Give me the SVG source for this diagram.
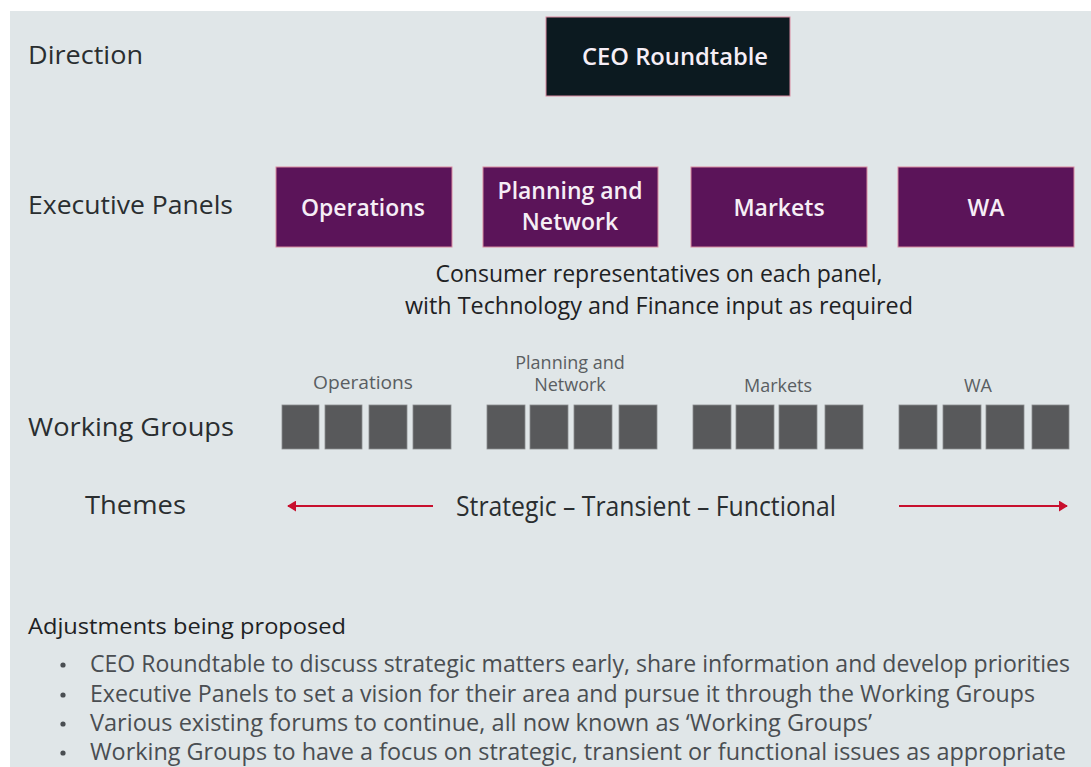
<svg xmlns="http://www.w3.org/2000/svg" width="1091" height="767" viewBox="0 0 1091 767">
<style>
text{font-family:"Open Sans","Noto Sans","DejaVu Sans",sans-serif}
.lbl{font-size:26px;fill:#2a2e30}
.box{stroke:#d98aa0;stroke-width:1}
.ceo{fill:#0c1a20}
.panel{fill:#5b1459}
.bt{font-size:23px;fill:#f6eef6;text-anchor:middle;font-weight:600}
.sq{fill:#58595b;stroke:#8a8c8e;stroke-width:0.8}
.wl{font-size:18px;fill:#5a5e62;text-anchor:middle}
.mid{font-size:23px;fill:#1e2224;text-anchor:middle;font-weight:500}
.bul{font-size:23px;fill:#4a4e52}
</style>
<defs>
<marker id="ah" viewBox="0 0 10 10" refX="9" refY="5" markerWidth="9" markerHeight="11" orient="auto-start-reverse" markerUnits="userSpaceOnUse" preserveAspectRatio="none">
<path d="M0,0 L10,5 L0,10 Z" fill="#c8102e"/>
</marker>
</defs>
<rect x="0" y="0" width="1091" height="767" fill="#ffffff"/>
<rect x="10" y="11" width="1081" height="756" fill="#e0e6e8"/>

<text class="lbl" x="28" y="64" textLength="115" lengthAdjust="spacingAndGlyphs">Direction</text>
<text class="lbl" x="28" y="214" textLength="205" lengthAdjust="spacingAndGlyphs">Executive Panels</text>
<text class="lbl" x="28" y="436" textLength="206" lengthAdjust="spacingAndGlyphs">Working Groups</text>
<text class="lbl" x="85" y="514" textLength="101" lengthAdjust="spacingAndGlyphs">Themes</text>

<g id="ceo">
<rect class="box ceo" x="546" y="17" width="244" height="79"/>
<text class="bt" x="675" y="65" textLength="186" lengthAdjust="spacingAndGlyphs">CEO Roundtable</text>
</g>
<g id="panel-operations">
<rect class="box panel" x="276" y="167" width="176" height="80"/>
<text class="bt" x="363" y="216" textLength="124" lengthAdjust="spacingAndGlyphs">Operations</text>
</g>
<g id="panel-planning">
<rect class="box panel" x="483" y="167" width="175" height="80"/>
<text class="bt" x="570" y="199" textLength="145" lengthAdjust="spacingAndGlyphs">Planning and</text>
<text class="bt" x="570" y="230">Network</text>
</g>
<g id="panel-markets">
<rect class="box panel" x="691" y="167" width="176" height="80"/>
<text class="bt" x="779" y="216">Markets</text>
</g>
<g id="panel-wa">
<rect class="box panel" x="898" y="167" width="176" height="80"/>
<text class="bt" x="986" y="216" font-weight="bold">WA</text>
</g>

<text class="mid" x="659" y="282" textLength="447" lengthAdjust="spacingAndGlyphs">Consumer representatives on each panel,</text>
<text class="mid" x="659" y="314" textLength="508" lengthAdjust="spacingAndGlyphs">with Technology and Finance input as required</text>

<g id="wg-operations">
<text class="wl" x="363" y="389" textLength="100" lengthAdjust="spacingAndGlyphs">Operations</text>
<rect class="sq" x="282" y="405" width="37" height="44"/>
<rect class="sq" x="325" y="405" width="37" height="44"/>
<rect class="sq" x="369" y="405" width="38" height="44"/>
<rect class="sq" x="413" y="405" width="38" height="44"/>
</g>
<g id="wg-planning">
<text class="wl" x="570" y="369">Planning and</text>
<text class="wl" x="570" y="391">Network</text>
<rect class="sq" x="487" y="405" width="38" height="44"/>
<rect class="sq" x="530" y="405" width="38" height="44"/>
<rect class="sq" x="574" y="405" width="38" height="44"/>
<rect class="sq" x="619" y="405" width="38" height="44"/>
</g>
<g id="wg-markets">
<text class="wl" x="778" y="392">Markets</text>
<rect class="sq" x="693" y="405" width="38" height="44"/>
<rect class="sq" x="736" y="405" width="38" height="44"/>
<rect class="sq" x="779" y="405" width="38" height="44"/>
<rect class="sq" x="825" y="405" width="38" height="44"/>
</g>
<g id="wg-wa">
<text class="wl" x="978" y="392">WA</text>
<rect class="sq" x="899" y="405" width="38" height="44"/>
<rect class="sq" x="943" y="405" width="38" height="44"/>
<rect class="sq" x="986" y="405" width="38" height="44"/>
<rect class="sq" x="1032" y="405" width="37" height="44"/>
</g>

<g id="connectors">
<line x1="433" y1="506" x2="288" y2="506" stroke="#c8102e" stroke-width="2" marker-end="url(#ah)"/>
<line x1="899" y1="506" x2="1067" y2="506" stroke="#c8102e" stroke-width="2" marker-end="url(#ah)"/>
</g>
<text x="456" y="516" font-size="27" fill="#2a2e30" textLength="380" lengthAdjust="spacingAndGlyphs">Strategic – Transient – Functional</text>

<text x="28" y="634" font-size="22" fill="#1e2224" textLength="318" lengthAdjust="spacingAndGlyphs">Adjustments being proposed</text>
<g>
<circle cx="63" cy="665" r="2.6" fill="#4a4e52"/>
<text class="bul" x="90" y="672" textLength="980" lengthAdjust="spacingAndGlyphs">CEO Roundtable to discuss strategic matters early, share information and develop priorities</text>
<circle cx="63" cy="695" r="2.6" fill="#4a4e52"/>
<text class="bul" x="90" y="702" textLength="945" lengthAdjust="spacingAndGlyphs">Executive Panels to set a vision for their area and pursue it through the Working Groups</text>
<circle cx="63" cy="724" r="2.6" fill="#4a4e52"/>
<text class="bul" x="90" y="731" textLength="782" lengthAdjust="spacingAndGlyphs">Various existing forums to continue, all now known as ‘Working Groups’</text>
<circle cx="63" cy="753" r="2.6" fill="#4a4e52"/>
<text class="bul" x="90" y="760" textLength="976" lengthAdjust="spacingAndGlyphs">Working Groups to have a focus on strategic, transient or functional issues as appropriate</text>
</g>
</svg>
